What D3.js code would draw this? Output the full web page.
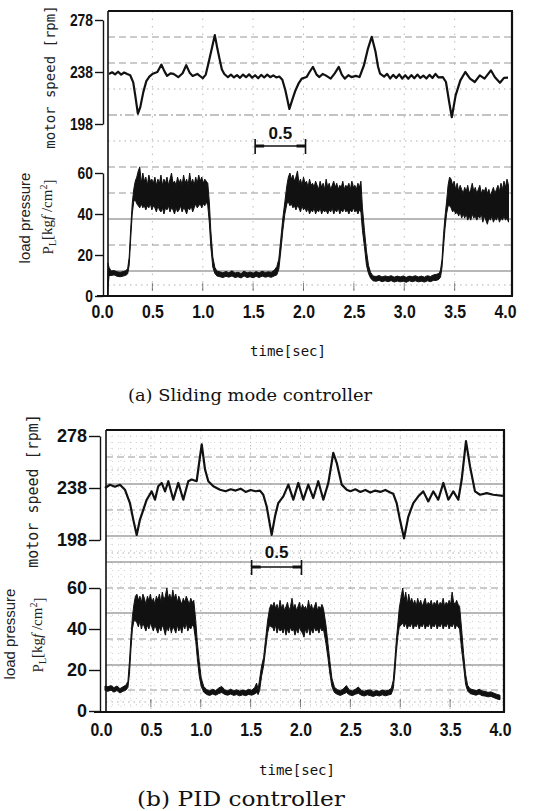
<!DOCTYPE html>
<html>
<head>
<meta charset="utf-8">
<script src="https://cdn.jsdelivr.net/npm/d3@7"></script>
<style>
html, body { margin: 0; padding: 0; background: #fff; }
svg { display: block; }
</style>
</head>
<body>
<svg id="fig" width="547" height="811"></svg>
<script>
// ---- values ----
const timeTicks = [0, 0.5, 1, 1.5, 2, 2.5, 3, 3.5, 4];
const speedTicks = [198, 238, 278];
const pressureTicks = [0, 20, 40, 60];
const scaleBarA = [1.52, 2.02];
const scaleBarB = [1.51, 2.01];

// (a) sliding mode: motor speed [t, rpm]
const speedA = [
	[0.07, 236.5], [0.1, 237.8], [0.13, 236.2], [0.16, 238.2], [0.19, 236], [0.22, 237.6], [0.25, 236.4],
	[0.28, 235.5], [0.31, 230], [0.33, 220], [0.356, 206], [0.38, 211], [0.41, 222.5], [0.44, 231],
	[0.47, 234.5], [0.505, 236.7], [0.55, 238], [0.59, 243.7], [0.62, 238.5], [0.646, 235], [0.68, 237],
	[0.71, 236.5], [0.757, 234], [0.8, 237], [0.836, 243.2], [0.87, 237.5], [0.9, 235], [0.946, 236.5],
	[1.0, 233.2], [1.03, 236], [1.056, 244.5], [1.09, 256], [1.12, 266.4], [1.145, 256], [1.166, 248.3],
	[1.19, 240], [1.214, 236.5], [1.25, 234], [1.28, 236], [1.31, 233.8], [1.34, 235.6], [1.37, 233.5],
	[1.4, 236], [1.43, 234], [1.46, 236.2], [1.49, 233.6], [1.52, 235.5], [1.55, 233.2], [1.58, 235.8],
	[1.61, 233.8], [1.64, 236], [1.67, 234], [1.7, 235.4], [1.73, 233.8], [1.76, 234.5], [1.79, 232],
	[1.82, 224], [1.86, 209.6], [1.89, 217], [1.92, 223.8], [1.95, 229], [1.983, 232.9], [2.03, 234.1],
	[2.06, 238], [2.094, 241.9], [2.13, 236], [2.158, 234.1], [2.19, 236.5], [2.22, 235.4], [2.27, 232.9],
	[2.31, 237], [2.35, 241.9], [2.38, 236], [2.41, 232.9], [2.445, 235.5], [2.476, 234.1], [2.52, 235],
	[2.556, 234.1], [2.6, 243.2], [2.64, 256], [2.677, 265.1], [2.715, 253.5], [2.74, 242], [2.76, 236.7],
	[2.8, 234.5], [2.83, 236.5], [2.86, 233], [2.89, 235.8], [2.92, 233.4], [2.95, 236.2], [2.98, 233],
	[3.01, 235.5], [3.04, 232.8], [3.07, 235.6], [3.1, 233.2], [3.13, 236], [3.16, 233.4], [3.19, 235.2],
	[3.22, 233], [3.25, 235.8], [3.28, 233.4], [3.31, 236.5], [3.34, 233.8], [3.383, 234.1], [3.414, 230.3],
	[3.446, 214.8], [3.472, 203.2], [3.51, 220], [3.557, 231.6], [3.606, 238], [3.653, 232.9], [3.7, 230.3],
	[3.75, 235.4], [3.797, 232.9], [3.86, 239.3], [3.9, 234], [3.95, 229.7], [3.99, 233.5], [4.03, 233.6]
];

// (a) sliding mode: load pressure band [t, low edge, high edge] in kgf/cm2
const pressureA = [
	[0.055, 0, 2], [0.06, 4, 16], [0.07, 10, 14], [0.09, 10, 12.2], [0.12, 10.3, 12.4], [0.15, 9.6, 11.8],
	[0.18, 9.4, 11.6], [0.21, 9.7, 11.9], [0.24, 10.2, 12.4], [0.255, 10.8, 13.5],
	[0.27, 15, 19], [0.285, 28, 33], [0.3, 40, 45], [0.315, 46, 52], [0.33, 47, 56],
	[0.345, 45, 58], [0.36, 44, 61], [0.375, 43, 63], [0.39, 45, 55], [0.405, 43, 60], [0.42, 44, 56],
	[0.435, 42, 58], [0.45, 44, 54], [0.465, 43, 59], [0.48, 45, 56], [0.495, 42, 57], [0.51, 44, 55],
	[0.525, 43, 58], [0.54, 41, 54], [0.555, 44, 57], [0.57, 42, 55], [0.585, 41, 59], [0.6, 43, 54],
	[0.615, 40, 57], [0.63, 43, 55], [0.645, 42, 58], [0.66, 44, 54], [0.675, 41, 57], [0.69, 43, 60],
	[0.705, 42, 55], [0.72, 40, 56], [0.735, 43, 54], [0.75, 41, 58], [0.765, 42, 55], [0.78, 44, 57],
	[0.795, 41, 54], [0.81, 43, 59], [0.825, 42, 55], [0.84, 40, 57], [0.855, 43, 54], [0.87, 42, 60],
	[0.885, 44, 55], [0.9, 41, 57], [0.915, 43, 54], [0.93, 45, 58], [0.945, 43, 55], [0.96, 44, 59],
	[0.975, 45, 56], [0.99, 43, 58], [1.005, 45, 55], [1.02, 44, 57], [1.035, 46, 56], [1.05, 44, 55],
	[1.065, 36, 46], [1.08, 24, 32], [1.1, 14, 19], [1.12, 11, 14], [1.14, 9.8, 12.2],
	[1.17, 9.4, 11.8], [1.2, 9, 11.3], [1.23, 9.6, 12], [1.26, 9.2, 11.3], [1.29, 9.8, 12.3], [1.32, 9, 11.2],
	[1.35, 9.4, 11.6], [1.38, 8.8, 11], [1.41, 9.8, 12.1], [1.44, 9, 11.3], [1.47, 9.4, 11.7], [1.5, 8.9, 11.2],
	[1.53, 9.6, 11.9], [1.56, 9, 11.3], [1.59, 9.7, 12.1], [1.62, 9.2, 11.5], [1.65, 9.5, 11.8],
	[1.68, 9.1, 11.6], [1.71, 9.8, 12.6], [1.735, 10.3, 14.3],
	[1.755, 13, 18], [1.775, 22, 28], [1.795, 32, 38], [1.815, 40, 46], [1.835, 45, 54], [1.85, 46, 58],
	[1.865, 44, 60], [1.88, 45, 57], [1.895, 43, 59], [1.91, 44, 56], [1.925, 42, 58], [1.94, 44, 61],
	[1.955, 43, 55], [1.97, 41, 57], [1.985, 44, 54], [2.0, 42, 58], [2.015, 43, 55], [2.03, 41, 56],
	[2.045, 43, 53], [2.06, 40, 57], [2.075, 42, 54], [2.09, 41, 55], [2.105, 43, 53], [2.12, 40, 56],
	[2.135, 42, 54], [2.15, 41, 52], [2.165, 43, 56], [2.18, 40, 53], [2.195, 42, 55], [2.21, 41, 52],
	[2.225, 42, 57], [2.24, 40, 53], [2.255, 42, 55], [2.27, 41, 52], [2.285, 43, 54], [2.3, 40, 56],
	[2.315, 42, 53], [2.33, 41, 55], [2.345, 43, 52], [2.36, 40, 54], [2.375, 42, 53], [2.39, 41, 56],
	[2.405, 43, 52], [2.42, 41, 54], [2.435, 42, 53], [2.45, 40, 55], [2.465, 42, 52], [2.48, 41, 56],
	[2.495, 43, 53], [2.51, 41, 54], [2.525, 42, 52], [2.54, 40, 55], [2.555, 42, 53], [2.57, 41, 56],
	[2.585, 32, 43], [2.605, 24, 32], [2.625, 15, 22], [2.645, 11, 15], [2.665, 8.8, 11.6],
	[2.69, 7.4, 9.8], [2.72, 7.2, 9.5], [2.75, 7.6, 10], [2.78, 7, 9.3], [2.81, 7.4, 9.8], [2.84, 7, 9.4],
	[2.87, 7.5, 9.9], [2.9, 6.8, 9.2], [2.93, 7.3, 9.7], [2.96, 6.9, 9.3], [2.99, 7.2, 9.8], [3.02, 6.7, 9.1],
	[3.05, 7.4, 9.7], [3.08, 7, 9.4], [3.11, 7.4, 9.9], [3.14, 6.9, 9.3], [3.17, 7.2, 9.7], [3.2, 6.8, 9.2],
	[3.23, 7.4, 9.9], [3.26, 7, 9.5], [3.29, 7.6, 10.3], [3.32, 7.6, 10.6], [3.345, 8.2, 11], [3.36, 9.2, 12.6],
	[3.375, 14, 18], [3.39, 24, 30], [3.405, 33, 39], [3.42, 40, 46], [3.435, 44, 54], [3.45, 44, 58],
	[3.465, 43, 57], [3.48, 41, 54], [3.495, 42, 56], [3.51, 40, 52], [3.525, 41, 55], [3.54, 39, 51],
	[3.555, 41, 54], [3.57, 38, 52], [3.585, 40, 50], [3.6, 38, 53], [3.615, 40, 51], [3.63, 37, 54],
	[3.645, 39, 50], [3.66, 37, 52], [3.675, 40, 55], [3.69, 38, 51], [3.705, 39, 53], [3.72, 37, 50],
	[3.735, 39, 52], [3.75, 38, 54], [3.765, 40, 50], [3.78, 36, 52], [3.795, 39, 51], [3.81, 37, 53],
	[3.825, 35, 50], [3.84, 38, 52], [3.855, 37, 49], [3.87, 39, 51], [3.885, 36, 53], [3.9, 38, 50],
	[3.915, 37, 52], [3.93, 39, 54], [3.945, 36, 51], [3.96, 38, 55], [3.975, 37, 52], [3.99, 39, 56],
	[4.005, 37, 53], [4.02, 38, 57], [4.035, 36, 54]
];

// (b) PID: motor speed [t, rpm]
const speedB = [
	[0.04, 238], [0.09, 240.5], [0.14, 239], [0.19, 240.5], [0.24, 236.7], [0.29, 226.4], [0.324, 213.5],
	[0.358, 201.9], [0.39, 213.5], [0.424, 221.2], [0.458, 229], [0.508, 235.4], [0.541, 229], [0.574, 239.3],
	[0.608, 241.9], [0.642, 235.4], [0.675, 243.2], [0.725, 229], [0.775, 241.9], [0.825, 229], [0.875, 243.2],
	[0.909, 244.5], [0.959, 243.2], [0.985, 258], [1.01, 271.5], [1.043, 252.2], [1.076, 243.2], [1.126, 239.3],
	[1.193, 236.7], [1.25, 235.5], [1.3, 237], [1.35, 236], [1.4, 237.5], [1.45, 235], [1.5, 236.5],
	[1.55, 235.5], [1.594, 236], [1.627, 232.8], [1.661, 223.8], [1.711, 201.9], [1.744, 216], [1.777, 226.4],
	[1.828, 231.6], [1.878, 240.6], [1.928, 229], [1.978, 241.9], [2.028, 229], [2.078, 240.6], [2.128, 230.3],
	[2.178, 243.2], [2.229, 229], [2.279, 241.9], [2.305, 254], [2.329, 265.1], [2.363, 257.4], [2.413, 240.6],
	[2.463, 236.7], [2.5, 235.5], [2.55, 237], [2.6, 235], [2.65, 236.5], [2.7, 234.5], [2.75, 236],
	[2.8, 235], [2.85, 236.5], [2.9, 234.5], [2.93, 233.5], [2.964, 226.4], [2.997, 213.5], [3.038, 199.3],
	[3.081, 216], [3.131, 226.4], [3.181, 231.6], [3.231, 235.4], [3.281, 227.7], [3.331, 235.4], [3.381, 229],
	[3.432, 241.9], [3.482, 229], [3.532, 235.4], [3.582, 229], [3.616, 244.5], [3.659, 274.1], [3.699, 254.8],
	[3.749, 235.4], [3.8, 232.8], [3.867, 234.1], [3.933, 232.8], [4.03, 232]
];

// (b) PID: load pressure band [t, low edge, high edge]
const pressureB = [
	[0.04, 10, 12.2], [0.07, 9.6, 11.8], [0.1, 10.2, 12.4], [0.13, 9.2, 11.4], [0.16, 10, 12.2], [0.19, 8.8, 10.9],
	[0.22, 9.6, 11.8], [0.25, 10.2, 12.6], [0.27, 11.5, 14.5],
	[0.285, 18, 24], [0.3, 30, 36], [0.315, 40, 46], [0.33, 44, 52], [0.345, 44, 56],
	[0.36, 43, 57], [0.375, 41, 54], [0.39, 44, 56], [0.405, 40, 53], [0.42, 43, 57], [0.435, 41, 55],
	[0.45, 39, 52], [0.465, 42, 56], [0.48, 40, 54], [0.495, 43, 57], [0.51, 41, 53], [0.525, 39, 55],
	[0.54, 42, 52], [0.555, 40, 56], [0.57, 38, 54], [0.585, 41, 57], [0.6, 39, 53], [0.615, 42, 58],
	[0.63, 40, 54], [0.645, 37, 56], [0.66, 41, 60], [0.675, 39, 55], [0.69, 42, 57], [0.705, 38, 54],
	[0.72, 41, 59], [0.735, 40, 55], [0.75, 38, 57], [0.765, 42, 53], [0.78, 39, 56], [0.795, 41, 54],
	[0.81, 38, 52], [0.825, 42, 55], [0.84, 40, 53], [0.855, 43, 56], [0.87, 39, 54], [0.885, 41, 52],
	[0.9, 40, 55], [0.915, 42, 53], [0.93, 41, 54],
	[0.95, 34, 44], [0.965, 26, 34], [0.985, 17, 24], [1.005, 12, 16], [1.03, 9.2, 12],
	[1.06, 8, 10.4], [1.09, 7.6, 9.9], [1.12, 8.3, 10.6], [1.15, 7.7, 10], [1.18, 8.5, 11.2], [1.21, 9, 12],
	[1.24, 8.1, 10.4], [1.27, 7.7, 9.9], [1.3, 8.3, 10.6], [1.33, 7.6, 9.9], [1.36, 8, 10.4], [1.39, 7.4, 9.7],
	[1.42, 7.9, 10.2], [1.45, 7.5, 9.9], [1.48, 8.1, 10.6], [1.51, 7.7, 10.1], [1.54, 8.3, 11.4], [1.56, 9, 13.6],
	[1.575, 8, 10.4], [1.59, 10, 15.5],
	[1.61, 17, 22], [1.63, 22, 26], [1.65, 30, 35], [1.67, 38, 44], [1.69, 42, 50], [1.705, 41, 52],
	[1.72, 41, 51], [1.735, 39, 53], [1.75, 42, 50], [1.765, 38, 52], [1.78, 41, 49], [1.795, 39, 54],
	[1.81, 40, 50], [1.825, 38, 52], [1.84, 41, 49], [1.855, 37, 51], [1.87, 40, 53], [1.885, 38, 49],
	[1.9, 41, 51], [1.915, 39, 55], [1.93, 40, 50], [1.945, 37, 52], [1.96, 40, 49], [1.975, 38, 51],
	[1.99, 41, 53], [2.005, 39, 49], [2.02, 38, 52], [2.035, 36, 50], [2.05, 40, 51], [2.065, 38, 49],
	[2.08, 41, 54], [2.095, 37, 50], [2.11, 40, 52], [2.125, 38, 49], [2.14, 41, 51], [2.155, 39, 53],
	[2.17, 40, 49], [2.185, 38, 51], [2.2, 41, 50], [2.215, 39, 52], [2.23, 40, 50],
	[2.255, 33, 42], [2.275, 26, 33], [2.295, 18, 24], [2.315, 12, 16], [2.34, 9, 11.6],
	[2.37, 8.1, 10.4], [2.4, 7.6, 9.9], [2.43, 8.3, 10.8], [2.46, 9, 12.4], [2.49, 7.9, 10.2], [2.52, 7.5, 9.8],
	[2.55, 8.2, 10.6], [2.58, 8.6, 11.7], [2.61, 7.7, 10], [2.64, 7.3, 9.6], [2.67, 7.9, 10.2], [2.7, 7.5, 10.3],
	[2.73, 7.1, 9.4], [2.76, 7.7, 10], [2.79, 7.3, 9.6], [2.82, 7.9, 10.2], [2.85, 7.4, 9.8], [2.88, 7.8, 10.1],
	[2.91, 8.2, 11],
	[2.93, 11, 15], [2.945, 18, 24], [2.96, 28, 34], [2.975, 36, 42], [2.99, 41, 50], [3.01, 42, 56],
	[3.025, 43, 60], [3.04, 41, 54], [3.055, 43, 58], [3.07, 40, 52], [3.085, 42, 57], [3.1, 41, 53],
	[3.115, 43, 55], [3.13, 40, 52], [3.145, 42, 54], [3.16, 41, 51], [3.175, 43, 55], [3.19, 40, 52],
	[3.205, 42, 54], [3.22, 41, 51], [3.235, 43, 53], [3.25, 40, 55], [3.265, 42, 51], [3.28, 41, 53],
	[3.295, 43, 52], [3.31, 40, 54], [3.325, 42, 51], [3.34, 41, 53], [3.355, 43, 52], [3.37, 40, 54],
	[3.385, 42, 51], [3.4, 41, 53], [3.415, 43, 52], [3.43, 40, 55], [3.445, 42, 51], [3.46, 41, 53],
	[3.475, 43, 52], [3.49, 40, 54], [3.505, 42, 52], [3.52, 41, 58], [3.535, 43, 53], [3.55, 40, 52],
	[3.565, 42, 54], [3.58, 41, 52], [3.595, 40, 51],
	[3.615, 30, 40], [3.635, 22, 28], [3.655, 13, 18], [3.675, 9.8, 12.6], [3.7, 8.5, 10.8],
	[3.73, 8.1, 10.4], [3.76, 7.7, 9.9], [3.79, 8.3, 10.6], [3.82, 7.5, 9.8], [3.85, 7.3, 9.5], [3.88, 6.9, 9.1],
	[3.91, 7.1, 9.3], [3.94, 6.5, 8.7], [3.97, 5.9, 8.1], [4.0, 5.5, 7.7]
];

// ---- layout (pixels) ----
const SANS = "'Liberation Sans', Arial, sans-serif";
const MONO = "'DejaVu Sans Mono', 'Liberation Mono', monospace";
const SERIF = "'DejaVu Serif', 'Liberation Serif', serif";

const panelA = {
	xRange: [102, 505], frame: [108, 512], top: 11, bottom: 296, baseStart: 97,
	speedRange: [124, 20], pressRange: [296, 173],
	bracketX: 103, labelRight: 93, yFont: `bold 17px ${SANS}`, yCharW: 7.7,
	xLabelY: 318,
	barY: 146, barTextY: 139,
	grid: [[37, 'dash'], [63, 'dash'], [89, 'dot'], [115, 'dashdot'], [141, 'dot'], [167, 'dash'],
		[193, 'dash'], [219, 'solid'], [245, 'dash'], [271, 'solid'], [285, 'dot']],
	minor: false,
	speedLabel: { x: 50, y: 77, size: 14 },
	loadLabel: { x: 25, y: 218 }, plLabel: { x: 48, y: 217 },
	timeLabel: { x: 288, y: 356 },
	caption: { x: 250, y: 401, size: 17.5, width: 244, text: '(a) Sliding mode controller' }
};

const panelB = {
	xRange: [101, 500], frame: [106, 504], top: 430, bottom: 712, baseStart: 94,
	speedRange: [540, 436], pressRange: [711, 588],
	bracketX: 100, labelRight: 87, yFont: `bold 18px ${SANS}`, yCharW: null,
	xLabelY: 736,
	barY: 567, barTextY: 558,
	grid: [[457, 'dash'], [470, 'dot'], [484, 'solid'], [510, 'dash'], [536, 'solid'], [553, 'dot'],
		[562, 'solid'], [588, 'dash'], [613, 'solid'], [639, 'dash'], [665, 'solid'], [690, 'dash'], [702, 'dot']],
	minor: true,
	speedLabel: { x: 33, y: 491, size: 15 },
	loadLabel: { x: 10, y: 634 }, plLabel: { x: 38, y: 635 },
	timeLabel: { x: 297, y: 775 },
	caption: { x: 241, y: 806, size: 20, width: 208, text: '(b) PID controller' }
};

const svg = d3.select('#fig');
svg.append('rect').attr('width', 547).attr('height', 811).attr('fill', '#fff');

const dashes = { solid: null, dash: '7,4', dot: '1.5,4', dashdot: '9,3,2,3' };
const gridOpacity = { solid: 0.75, dash: 0.6, dot: 0.45, dashdot: 0.7 };

function drawPanel(L, speed, press, bar) {
	const g = svg.append('g');
	const x = d3.scaleLinear().domain([0, 4]).range(L.xRange);
	const ys = d3.scaleLinear().domain([198, 278]).range(L.speedRange);
	const yp = d3.scaleLinear().domain([0, 60]).range(L.pressRange);
	const [fx0, fx1] = L.frame;

	// chart paper
	if (L.minor) {
		for (let yy = L.top + 6; yy < L.bottom - 2; yy += 6.4) {
			g.append('line')
				.attr('x1', fx0).attr('x2', fx1).attr('y1', yy).attr('y2', yy)
				.attr('stroke', '#666').attr('stroke-width', 0.8)
				.attr('stroke-dasharray', '1,5').attr('opacity', 0.4);
		}
		d3.range(0.1, 4, 0.1).forEach(t => {
			g.append('line')
				.attr('x1', x(t)).attr('x2', x(t)).attr('y1', L.top).attr('y2', L.bottom)
				.attr('stroke', '#666').attr('stroke-width', 0.8)
				.attr('stroke-dasharray', '1,5').attr('opacity', 0.35);
		});
	}
	L.grid.forEach(([yy, style]) => {
		g.append('line')
			.attr('x1', fx0).attr('x2', fx1).attr('y1', yy).attr('y2', yy)
			.attr('stroke', '#444').attr('stroke-width', style === 'solid' ? 1.1 : 0.9)
			.attr('stroke-dasharray', dashes[style])
			.attr('opacity', gridOpacity[style]);
	});
	timeTicks.slice(1, -1).forEach(t => {
		g.append('line')
			.attr('x1', x(t)).attr('x2', x(t)).attr('y1', L.top).attr('y2', L.bottom)
			.attr('stroke', '#555').attr('stroke-width', 0.8)
			.attr('stroke-dasharray', '1.5,6').attr('opacity', 0.5);
		g.append('line')
			.attr('x1', x(t)).attr('x2', x(t)).attr('y1', L.bottom - 13).attr('y2', L.bottom - 5)
			.attr('stroke', '#333').attr('stroke-width', 1).attr('opacity', 0.6);
	});

	// frame
	g.append('line').attr('x1', fx0).attr('x2', fx1 + 1).attr('y1', L.top).attr('y2', L.top)
		.attr('stroke', '#111').attr('stroke-width', 2);
	g.append('line').attr('x1', fx0).attr('x2', fx0).attr('y1', L.top).attr('y2', L.bottom)
		.attr('stroke', '#111').attr('stroke-width', 1.6);
	g.append('line').attr('x1', fx1).attr('x2', fx1).attr('y1', L.top).attr('y2', L.bottom)
		.attr('stroke', '#111').attr('stroke-width', 2.2);
	g.append('line').attr('x1', L.baseStart).attr('x2', fx1 + 1).attr('y1', L.bottom).attr('y2', L.bottom)
		.attr('stroke', '#111').attr('stroke-width', 2.2);

	// traces
	const area = d3.area()
		.x(d => x(d[0]))
		.y0(d => yp(d[1]))
		.y1(d => yp(d[2]));
	g.append('path')
		.attr('d', area(press))
		.attr('fill', '#111')
		.attr('stroke', '#111')
		.attr('stroke-width', 1)
		.attr('stroke-linejoin', 'round');

	const line = d3.line()
		.x(d => x(d[0]))
		.y(d => ys(d[1]));
	g.append('path')
		.attr('d', line(speed))
		.attr('fill', 'none')
		.attr('stroke', '#111')
		.attr('stroke-width', 2.2)
		.attr('stroke-linejoin', 'round');

	// y axes (bracket style)
	const tickLen = L.bracketX - L.labelRight - 2;
	[[ys, speedTicks], [yp, pressureTicks]].forEach(([scale, ticks]) => {
		const ax = g.append('g')
			.attr('transform', `translate(${L.bracketX},0)`)
			.call(d3.axisLeft(scale).tickValues(ticks).tickSize(tickLen).tickSizeOuter(0).tickPadding(2));
		ax.select('.domain').attr('stroke', '#111').attr('stroke-width', 1.4);
		ax.selectAll('.tick line').attr('stroke', '#111').attr('stroke-width', 1.4);
		const tt = ax.selectAll('.tick text')
			.attr('fill', '#111')
			.style('font', L.yFont);
		if (L.yCharW) {
			tt.attr('textLength', d => String(d).length * L.yCharW)
				.attr('lengthAdjust', 'spacingAndGlyphs');
		}
	});

	// x axis labels
	const xa = g.append('g')
		.attr('transform', `translate(0,${L.xLabelY})`)
		.call(d3.axisBottom(x).tickValues(timeTicks).tickSize(0).tickPadding(0).tickFormat(d3.format('.1f')));
	xa.select('.domain').remove();
	xa.selectAll('.tick text')
		.attr('y', 0).attr('dy', 0)
		.attr('fill', '#111')
		.attr('textLength', 22)
		.attr('lengthAdjust', 'spacingAndGlyphs')
		.style('font', `bold 19px ${SANS}`);

	// 0.5 s scale bar
	const bx0 = x(bar[0]), bx1 = x(bar[1]);
	g.append('line').attr('x1', bx0).attr('x2', bx1).attr('y1', L.barY).attr('y2', L.barY)
		.attr('stroke', '#111').attr('stroke-width', 1.6);
	[bx0, bx1].forEach(bx => {
		g.append('line').attr('x1', bx).attr('x2', bx).attr('y1', L.barY - 7).attr('y2', L.barY + 8)
			.attr('stroke', '#111').attr('stroke-width', 1.6);
	});
	g.append('line').attr('x1', bx0).attr('x2', bx0 + 9).attr('y1', L.barY).attr('y2', L.barY)
		.attr('stroke', '#111').attr('stroke-width', 3);
	g.append('line').attr('x1', bx1 - 9).attr('x2', bx1).attr('y1', L.barY).attr('y2', L.barY)
		.attr('stroke', '#111').attr('stroke-width', 3);
	g.append('text')
		.attr('x', (bx0 + bx1) / 2).attr('y', L.barTextY)
		.attr('text-anchor', 'middle')
		.attr('fill', '#111')
		.style('font', `bold 17px ${SANS}`)
		.text('0.5');

	// axis titles
	g.append('text')
		.attr('transform', `translate(${L.speedLabel.x},${L.speedLabel.y}) rotate(-90)`)
		.attr('text-anchor', 'middle').attr('dy', '0.35em')
		.attr('fill', '#222')
		.style('font', `${L.speedLabel.size}px ${MONO}`)
		.text('motor speed [rpm]');

	g.append('text')
		.attr('transform', `translate(${L.loadLabel.x},${L.loadLabel.y}) rotate(-90)`)
		.attr('text-anchor', 'middle').attr('dy', '0.35em')
		.attr('fill', '#222')
		.style('font', `15px ${SANS}`)
		.text('load pressure');

	const pl = g.append('text')
		.attr('transform', `translate(${L.plLabel.x},${L.plLabel.y}) rotate(-90)`)
		.attr('text-anchor', 'middle').attr('dy', '0.35em')
		.attr('fill', '#222')
		.style('font', `15px 'Liberation Serif', serif`);
	pl.append('tspan').text('P');
	pl.append('tspan').attr('dy', '0.3em').style('font-size', '10px').text('L');
	pl.append('tspan').attr('dy', '-0.3em').text('[kg');
	pl.append('tspan').style('font-style', 'italic').text('f');
	pl.append('tspan').text(' /cm');
	pl.append('tspan').attr('dy', '-0.45em').style('font-size', '10px').text('2');
	pl.append('tspan').attr('dy', '0.45em').text(']');

	g.append('text')
		.attr('x', L.timeLabel.x).attr('y', L.timeLabel.y)
		.attr('text-anchor', 'middle')
		.attr('fill', '#111')
		.style('font', `14px ${MONO}`)
		.text('time[sec]');

	g.append('text')
		.attr('x', L.caption.x).attr('y', L.caption.y)
		.attr('text-anchor', 'middle')
		.attr('fill', '#111')
		.attr('textLength', L.caption.width)
		.attr('lengthAdjust', 'spacingAndGlyphs')
		.style('font', `${L.caption.size}px ${SERIF}`)
		.text(L.caption.text);
}

drawPanel(panelA, speedA, pressureA, scaleBarA);
drawPanel(panelB, speedB, pressureB, scaleBarB);
</script>
</body>
</html>
